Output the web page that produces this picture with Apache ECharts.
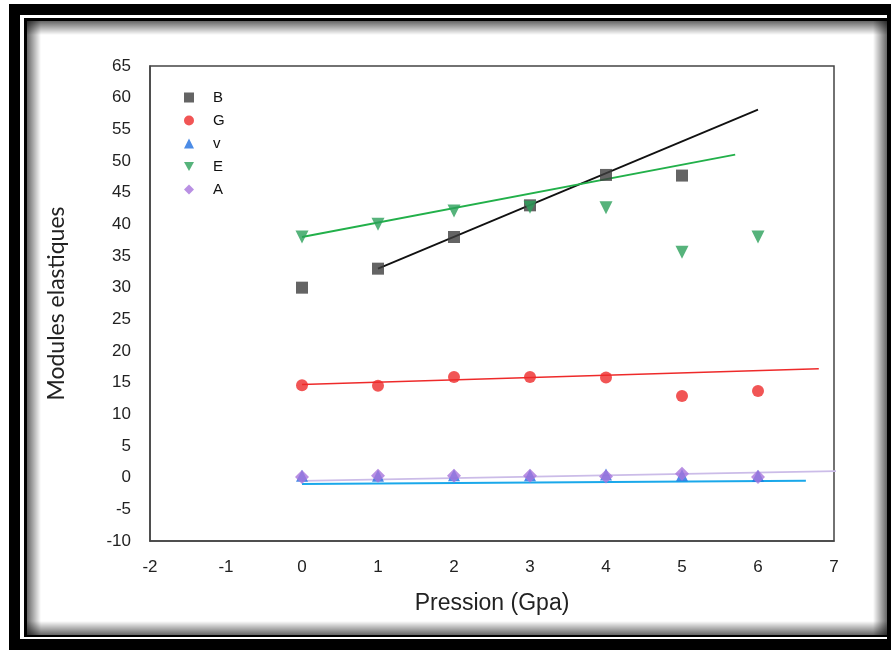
<!DOCTYPE html>
<html><head><meta charset="utf-8">
<script src="https://cdn.jsdelivr.net/npm/echarts@6/dist/echarts.min.js"></script>
<style>html,body{margin:0;padding:0;background:#fff}#c{width:894px;height:650px}</style>
</head><body><div id="c"></div>
<script>
var pressure = [0, 1, 2, 3, 4, 5, 6];
var B = [30, 33, 38, 43, 47.8, 47.7, null];
var G = [14.6, 14.5, 15.9, 15.9, 15.8, 12.9, 13.7];
var v = [0.3, 0.3, 0.4, 0.4, 0.5, 0.4, 0.3];
var E = [38, 40, 42.1, 42.7, 42.6, 35.6, 38];
var A = [0.1, 0.3, 0.3, 0.3, 0.2, 0.6, 0.1];
var fitB = [[1, 33], [6, 58.1]];
var fitG = [[0, 14.7], [6.8, 17.2]];
var fitV = [[0, -1.0], [6.63, -0.5]];
var fitE = [[0, 38], [5.7, 51]];
var fitA = [[0, -0.5], [7.1, 1.05]];
var xTicks = [-2, -1, 0, 1, 2, 3, 4, 5, 6, 7];
var yTicks = [-10, -5, 0, 5, 10, 15, 20, 25, 30, 35, 40, 45, 50, 55, 60, 65];

function pts(arr) {
  var out = [];
  for (var i = 0; i < pressure.length; i++) if (arr[i] != null) out.push([pressure[i], arr[i]]);
  return out;
}
var chart = echarts.init(document.getElementById('c'), null, {renderer: 'canvas'});
function edge(x, y, w, h, dir) {
  var g = {x: 0, y: 0, x2: 0, y2: 0};
  if (dir === 'l') g.x2 = 1; if (dir === 'r') g.x = 1; if (dir === 't') g.y2 = 1; if (dir === 'b') g.y = 1;
  return {type: 'rect', z: -10, silent: true, shape: {x: x, y: y, width: w, height: h},
    style: {fill: new echarts.graphic.LinearGradient(g.x, g.y, g.x2, g.y2, [
      {offset: 0, color: 'rgba(0,0,0,0.6)'}, {offset: 1, color: 'rgba(0,0,0,0)'}])}};
}
var sc = function (name, data, symbol, color, size) {
  return {name: name, type: 'scatter', data: pts(data), symbol: symbol, symbolSize: size,
    itemStyle: {color: color}, z: 3};
};
var ln = function (data, color, w) {
  return {type: 'line', data: data, symbol: 'none', silent: true, z: 2,
    lineStyle: {color: color, width: w || 1.6}};
};
chart.setOption({
  animation: false,
  backgroundColor: '#fff',
  graphic: [
    {type: 'rect', z: -20, silent: true, shape: {x: 9, y: 4, width: 882, height: 660}, style: {fill: '#000'}},
    {type: 'rect', z: -19, silent: true, shape: {x: 20, y: 15, width: 867, height: 624}, style: {fill: '#fff'}},
    {type: 'rect', z: -18, silent: true, shape: {x: 24, y: 18, width: 863, height: 619}, style: {fill: '#000'}},
    {type: 'rect', z: -17, silent: true, shape: {x: 27, y: 21, width: 860, height: 614}, style: {fill: '#fff'}},
    edge(27, 21, 14, 614, 'l'),
    edge(27, 21, 860, 14, 't'),
    edge(873, 21, 14, 614, 'r'),
    edge(27, 621, 860, 14, 'b')
  ],
  grid: {left: 150, top: 66, width: 684, height: 475, show: true, borderColor: '#444', borderWidth: 1.5, backgroundColor: 'transparent'},
  legend: {
    orient: 'vertical', left: 179, top: 85, itemWidth: 10, itemHeight: 10, itemGap: 8,
    data: ['B', 'G', 'v', 'E', 'A'],
    textStyle: {fontFamily: 'Liberation Sans', fontSize: 15, color: '#111', padding: [0, 0, 0, 14]}
  },
  xAxis: {
    type: 'value', min: xTicks[0], max: xTicks[xTicks.length - 1], interval: 1,
    name: 'Pression (Gpa)', nameLocation: 'middle', nameGap: 51,
    nameTextStyle: {fontFamily: 'Liberation Sans', fontSize: 23, color: '#222'},
    axisLine: {onZero: false, lineStyle: {color: '#444', width: 1.5}}, axisTick: {show: false},
    splitLine: {show: false},
    axisLabel: {margin: 18, fontFamily: 'Liberation Sans', fontSize: 17, color: '#222'}
  },
  yAxis: {
    type: 'value', min: yTicks[0], max: yTicks[yTicks.length - 1], interval: 5,
    name: 'Modules elastiques', nameLocation: 'middle', nameGap: 82,
    nameTextStyle: {fontFamily: 'Lato, Open Sans', fontSize: 23, color: '#222'},
    axisLine: {onZero: false, lineStyle: {color: '#444', width: 1.5}}, axisTick: {show: false},
    splitLine: {show: false},
    axisLabel: {margin: 19, fontFamily: 'Liberation Sans', fontSize: 17, color: '#222'}
  },
  series: [
    ln(fitB, '#111', 1.8), ln(fitG, '#ee2a2a', 1.6), ln(fitV, '#1aa8ea', 2), ln(fitE, '#22b04a', 1.8), ln(fitA, '#cbbce8', 1.8),
    sc('B', B, 'rect', '#3d3d3d', 12),
    sc('G', G, 'circle', '#ee2a2a', 12),
    sc('v', v, 'triangle', '#1f6fe0', 12),
    sc('E', E, 'path://M0,0L10,0L5,9Z', '#2ca05a', 13),
    sc('A', A, 'diamond', '#a774dc', 14)
  ]
});
</script></body></html>
